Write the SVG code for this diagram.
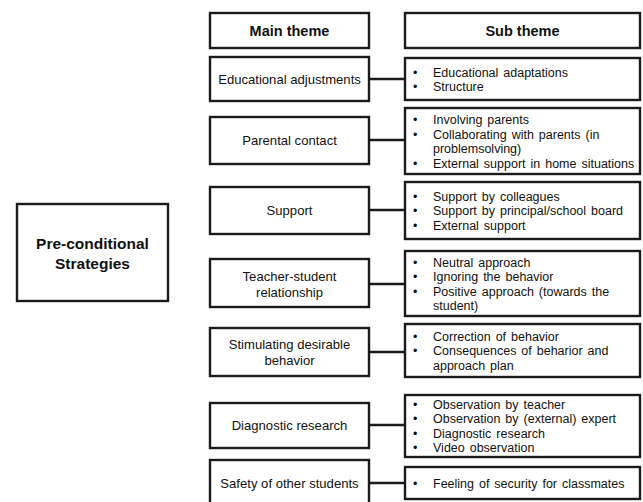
<svg xmlns="http://www.w3.org/2000/svg" width="643" height="502" viewBox="0 0 643 502">
<style>
rect{fill:#fff;stroke:#1a1a1a;stroke-width:2.4}
.c line{stroke:#1a1a1a;stroke-width:2.4}
text{font-family:"Liberation Sans",Arial,sans-serif;fill:#111}
.h{font-size:14.5px;font-weight:bold;text-anchor:middle}
.m{font-size:13.1px;text-anchor:middle}
.s{font-size:12.5px;word-spacing:1.5px}
.t{font-size:15.5px;font-weight:bold;text-anchor:middle}
</style>
<rect width="643" height="502" style="fill:#fff;stroke:none"/>
<g id="root">
<rect x="17" y="204" width="151" height="97"/>
<text class="t" x="92.5" y="248.5">Pre-conditional</text>
<text class="t" x="92.5" y="268.5">Strategies</text>
</g>
<g id="hdr-main"><rect x="210" y="13" width="159" height="35"/><text class="h" x="289.5" y="36">Main theme</text></g>
<g id="hdr-sub"><rect x="405" y="13" width="235" height="35"/><text class="h" x="522.5" y="36">Sub theme</text></g>

<g id="m1"><rect x="210" y="57" width="159" height="44"/><text class="m" x="289.5" y="84">Educational adjustments</text></g>
<g id="m2"><rect x="210" y="117" width="159" height="47"/><text class="m" x="289.5" y="145">Parental contact</text></g>
<g id="m3"><rect x="210" y="187" width="159" height="47"/><text class="m" x="289.5" y="215">Support</text></g>
<g id="m4"><rect x="210" y="259" width="159" height="48"/><text class="m" x="289.5" y="280.5">Teacher-student</text><text class="m" x="289.5" y="296.5">relationship</text></g>
<g id="m5"><rect x="210" y="328" width="159" height="48"/><text class="m" x="289.5" y="348.5">Stimulating desirable</text><text class="m" x="289.5" y="364.5">behavior</text></g>
<g id="m6"><rect x="210" y="403" width="159" height="45"/><text class="m" x="289.5" y="430">Diagnostic research</text></g>
<g id="m7"><rect x="210" y="460" width="159" height="46"/><text class="m" x="289.5" y="488">Safety of other students</text></g>

<g id="s1"><rect x="405" y="58" width="235" height="42"/>
<text class="s" x="413" y="76.5">•</text><text class="s" x="433" y="76.5">Educational adaptations</text>
<text class="s" x="413" y="90.5">•</text><text class="s" x="433" y="90.5">Structure</text></g>
<g id="s2"><rect x="405" y="108" width="235" height="66"/>
<text class="s" x="413" y="124">•</text><text class="s" x="433" y="124">Involving parents</text>
<text class="s" x="413" y="138.5">•</text><text class="s" x="433" y="138.5">Collaborating with parents (in</text>
<text class="s" x="433" y="153">problemsolving)</text>
<text class="s" x="413" y="167.5">•</text><text class="s" x="433" y="167.5">External support in home situations</text></g>
<g id="s3"><rect x="405" y="182" width="235" height="57"/>
<text class="s" x="413" y="200.5">•</text><text class="s" x="433" y="200.5">Support by colleagues</text>
<text class="s" x="413" y="215">•</text><text class="s" x="433" y="215">Support by principal/school board</text>
<text class="s" x="413" y="229.5">•</text><text class="s" x="433" y="229.5">External support</text></g>
<g id="s4"><rect x="405" y="251" width="235" height="65"/>
<text class="s" x="413" y="266.5">•</text><text class="s" x="433" y="266.5">Neutral approach</text>
<text class="s" x="413" y="281">•</text><text class="s" x="433" y="281">Ignoring the behavior</text>
<text class="s" x="413" y="295.5">•</text><text class="s" x="433" y="295.5">Positive approach (towards the</text>
<text class="s" x="433" y="310">student)</text></g>
<g id="s5"><rect x="405" y="324" width="235" height="53"/>
<text class="s" x="413" y="340.5">•</text><text class="s" x="433" y="340.5">Correction of behavior</text>
<text class="s" x="413" y="355">•</text><text class="s" x="433" y="355">Consequences of beharior and</text>
<text class="s" x="433" y="369.5">approach plan</text></g>
<g id="s6"><rect x="405" y="395" width="235" height="62"/>
<text class="s" x="413" y="408.5">•</text><text class="s" x="433" y="408.5">Observation by teacher</text>
<text class="s" x="413" y="423">•</text><text class="s" x="433" y="423">Observation by (external) expert</text>
<text class="s" x="413" y="437.5">•</text><text class="s" x="433" y="437.5">Diagnostic research</text>
<text class="s" x="413" y="452">•</text><text class="s" x="433" y="452">Video observation</text></g>
<g id="s7"><rect x="405" y="467" width="235" height="32"/>
<text class="s" x="413" y="487.5">•</text><text class="s" x="433" y="487.5">Feeling of security for classmates</text></g>

<g class="c" id="connectors">
<line x1="369" y1="79" x2="405" y2="79"/>
<line x1="369" y1="140" x2="405" y2="140"/>
<line x1="369" y1="210" x2="405" y2="210"/>
<line x1="369" y1="284" x2="405" y2="284"/>
<line x1="369" y1="352" x2="405" y2="352"/>
<line x1="369" y1="425" x2="405" y2="425"/>
<line x1="369" y1="483" x2="405" y2="483"/>
</g>
</svg>
